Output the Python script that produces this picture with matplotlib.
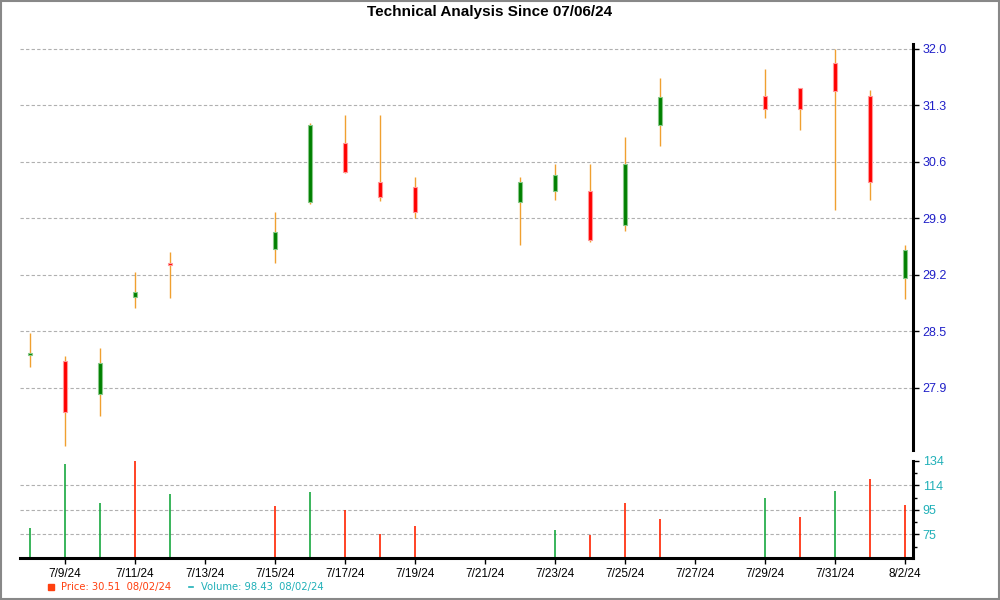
import matplotlib
matplotlib.use("Agg")
import matplotlib.pyplot as plt
import matplotlib.dates as mdates
import pandas as pd
import numpy as np
from matplotlib.patches import Rectangle
from matplotlib.lines import Line2D

# daily candles
dates = ["2024-07-08", "2024-07-09", "2024-07-10", "2024-07-11", "2024-07-12",
         "2024-07-15", "2024-07-16", "2024-07-17", "2024-07-18", "2024-07-19",
         "2024-07-22", "2024-07-23", "2024-07-24", "2024-07-25", "2024-07-26",
         "2024-07-29", "2024-07-30", "2024-07-31", "2024-08-01", "2024-08-02"]
opens = [28.26, 28.19, 27.78, 28.97, 29.38, 29.55, 30.13, 30.85, 30.37, 30.31,
         30.13, 30.26, 30.27, 29.85, 31.07, 31.43, 31.52, 31.83, 31.42, 29.20]
highs = [28.53, 28.25, 28.35, 29.27, 29.52, 30.01, 31.10, 31.19, 31.19, 30.44,
         30.43, 30.59, 30.59, 30.92, 31.65, 31.75, 31.52, 32.00, 31.50, 29.60]
lows = [28.12, 27.15, 27.51, 28.84, 28.96, 29.38, 30.10, 30.48, 30.14, 29.93,
        29.60, 30.15, 29.64, 29.77, 30.81, 31.15, 31.01, 30.03, 30.16, 28.95]
closes = [28.28, 27.57, 28.16, 29.03, 29.36, 29.76, 31.07, 30.49, 30.19, 30.01,
          30.38, 30.46, 29.66, 30.59, 31.41, 31.27, 31.26, 31.48, 30.37, 29.54]
volumes = [80.2, 131.3, 100.0, 134.2, 107.5, 97.6, 108.9, 94.4, 75.9, 81.8,
           np.nan, 78.6, 74.6, 100.5, 87.2, 104.0, 88.8, 109.7, 119.3, 98.43]
vol_up = [True, True, True, False, True, False, True, False, False, False,
          True, True, False, False, False, True, False, True, False, False]

price_ticks = [32.0, 31.31, 30.62, 29.93, 29.24, 28.55, 27.86]
price_labels = ["32.0", "31.3", "30.6", "29.9", "29.2", "28.5", "27.9"]
vol_ticks = [134.0, 114.4, 94.8, 75.2]
vol_labels = ["134", "114", "95", "75"]
date_ticks = ["2024-07-09", "2024-07-11", "2024-07-13", "2024-07-15", "2024-07-17",
              "2024-07-19", "2024-07-21", "2024-07-23", "2024-07-25", "2024-07-27",
              "2024-07-29", "2024-07-31", "2024-08-02"]
date_labels = ["7/9/24", "7/11/24", "7/13/24", "7/15/24", "7/17/24", "7/19/24",
               "7/21/24", "7/23/24", "7/25/24", "7/27/24", "7/29/24", "7/31/24", "8/2/24"]

x = mdates.date2num(pd.to_datetime(dates))
xt = mdates.date2num(pd.to_datetime(date_ticks))
x0 = mdates.date2num(pd.Timestamp("2024-07-08"))
xlim = (x0 - 0.286, x0 + 25.23)

plt.rcParams['font.family'] = ['Liberation Sans', 'DejaVu Sans']
fig = plt.figure(figsize=(10, 6), dpi=100)
fig.patches.append(Rectangle((0.001, 0.002), 0.998, 0.996, transform=fig.transFigure,
                             fill=False, edgecolor='#888888', linewidth=1.5))

ax = fig.add_axes([0.02, 0.25, 0.893, 0.6767])
axv = fig.add_axes([0.02, 0.07, 0.893, 0.1617])

wick_col = '#f0a030'
grid_kw = dict(color='#b0b0b0', linestyle=(0, (3, 2)), linewidth=0.8)

# candles
for xi, o, h, l, c in zip(x, opens, highs, lows, closes):
    ax.vlines(xi, l, h, color=wick_col, linewidth=1, zorder=2)
    up = c >= o
    face = '#008000' if up else '#ff0000'
    edge = '#88c888' if up else '#ff9999'
    bottom = min(o, c)
    height = max(abs(c - o), 0.02)
    ax.bar(xi, height, bottom=bottom, width=0.13, color=face, edgecolor=edge,
           linewidth=0.8, zorder=3)

ax.set_xlim(*xlim)
ax.set_ylim(27.10, 32.06)
ax.yaxis.tick_right()
ax.set_yticks(price_ticks)
ax.set_yticklabels(price_labels, color='#2020c8', fontsize=9)
ax.tick_params(axis='y', direction='out', length=4, width=1, pad=3)
ax.set_xticks([])
for s in ['top', 'left', 'bottom']:
    ax.spines[s].set_visible(False)
ax.spines['right'].set_linewidth(2.2)
ax.grid(axis='y', **grid_kw)
ax.set_title("Technical Analysis Since 07/06/24", fontsize=11, fontweight='bold', pad=20)
ax.title.set_position((0.526, 1.0))

# volume
vcols = ['#18a840' if u else '#ff2200' for u in vol_up]
axv.vlines(x, 0, volumes, colors=vcols, linewidth=1.2, zorder=2)
axv.set_xlim(*xlim)
axv.set_ylim(56.3, 134.0)
axv.yaxis.tick_right()
axv.set_yticks(vol_ticks)
axv.set_yticklabels(vol_labels, color='#20b0b8', fontsize=9)
axv.set_yticks([124.2, 104.6, 85.0, 65.4], minor=True)
axv.tick_params(axis='y', which='major', direction='out', length=4, width=1, pad=3)
axv.tick_params(axis='y', which='minor', direction='out', length=3, width=1)
axv.set_xticks(xt)
axv.set_xticklabels(date_labels, fontsize=8.5)
axv.tick_params(axis='x', direction='out', length=4, width=1, pad=3.5)
axv.spines['top'].set_visible(False)
axv.spines['left'].set_visible(False)
axv.spines['right'].set_linewidth(2.2)
axv.spines['bottom'].set_linewidth(2.2)
for v in vol_ticks[1:]:
    axv.axhline(v, zorder=1, **grid_kw)

# legend line at the bottom
fig.add_artist(Line2D([0.051], [0.022], marker='s', markersize=5, color='#ff4010',
                      transform=fig.transFigure))
fig.add_artist(Line2D([0.189, 0.193], [0.022, 0.022], color='#20b0b8', linewidth=1.2,
                      transform=fig.transFigure))
fig.text(0.061, 0.022, "Price: 30.51  08/02/24", color='#ff4010', fontsize=7.2,
         family='DejaVu Sans', va='center')
fig.text(0.201, 0.022, "Volume: 98.43  08/02/24", color='#20b0b8', fontsize=7.2,
         family='DejaVu Sans', va='center')

fig.savefig("out.png", dpi=100)
